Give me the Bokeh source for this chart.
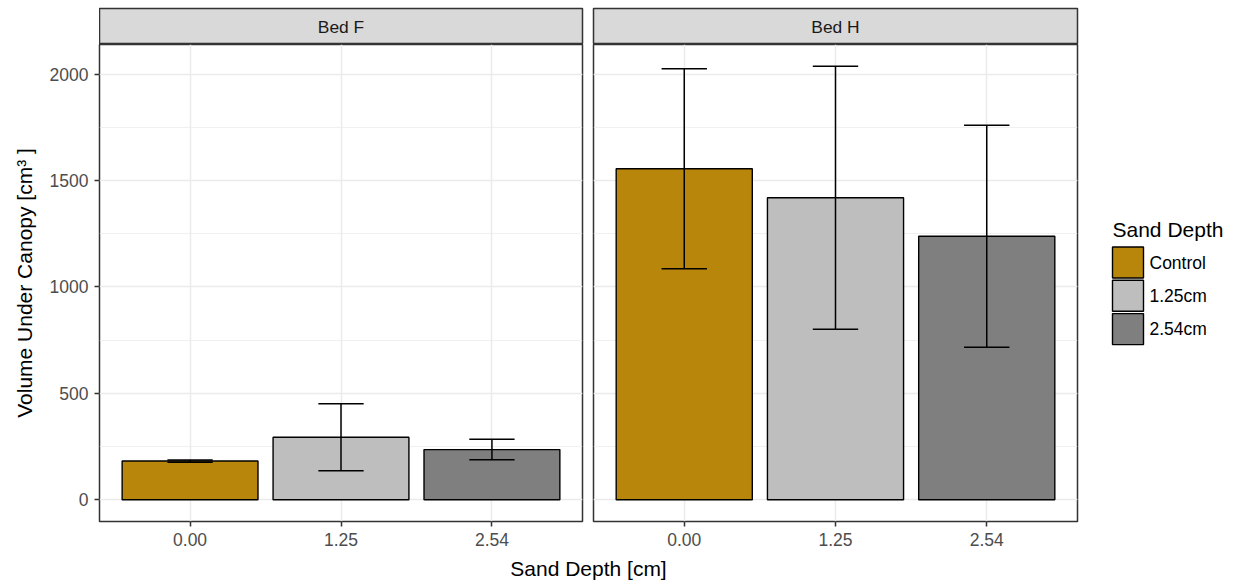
from bokeh.plotting import figure
from bokeh.layouts import column, row
from bokeh.models import (Range1d, FixedTicker, SingleIntervalTicker, Label,
                          Spacer, ColumnDataSource)
from bokeh.core.properties import value
from bokeh.embed import file_html
from bokeh.resources import INLINE

# ---- data -------------------------------------------------------------
beds = ["Bed F", "Bed H"]
depth_ticks = ["0.00", "1.25", "2.54"]
depth_names = ["Control", "1.25cm", "2.54cm"]
bar_colors = ["#B8860B", "#BEBEBE", "#7F7F7F"]

mean_bed_f = [182, 294, 236]
se_bed_f = [5, 157, 48]
mean_bed_h = [1555, 1419, 1238]
se_bed_h = [470, 618, 521]

# ---- styling ----------------------------------------------------------
FONT = "Liberation Sans"
BORDER = "#333333"
GRID = "#EBEBEB"

PANEL_H = 511        # panel row height (frame + x axis)
AXIS_H = 34          # room below the frame for the x axis

# shared y extent: 0 .. highest error bar, padded 5% each side
y_top = max(m + s for m, s in zip(mean_bed_f + mean_bed_h, se_bed_f + se_bed_h))
y_lo, y_hi = -0.05 * y_top, 1.05 * y_top

positions = [i + 1 for i in range(len(depth_ticks))]
BAR_W = 0.9
CAP_W = 0.3


def make_panel(means, ses, show_y, width, left, right):
    src = ColumnDataSource(dict(
        x=positions,
        top=means,
        lower=[m - s for m, s in zip(means, ses)],
        upper=[m + s for m, s in zip(means, ses)],
        cl=[x - CAP_W / 2 for x in positions],
        cr=[x + CAP_W / 2 for x in positions],
        color=bar_colors,
    ))
    p = figure(width=width, height=PANEL_H,
               x_range=Range1d(0.4, len(positions) + 0.6),
               y_range=Range1d(y_lo, y_hi),
               output_backend="svg", toolbar_location=None,
               y_axis_location="left" if show_y else None,
               min_border_left=left, min_border_right=right,
               min_border_top=0, min_border_bottom=AXIS_H)
    p.outline_line_color = BORDER
    p.outline_line_width = 1.5
    p.background_fill_color = "white"
    p.border_fill_color = "white"

    xt = FixedTicker(ticks=positions)
    yt = SingleIntervalTicker(interval=500, num_minor_ticks=2)

    p.xaxis.ticker = xt
    p.xgrid.ticker = xt
    p.ygrid.ticker = yt
    p.xaxis.major_label_overrides = {x: lab for x, lab in zip(positions, depth_ticks)}
    axes = list(p.xaxis)
    if show_y:
        p.yaxis.ticker = yt
        p.yaxis.axis_label = "Volume Under Canopy [cm³ ]"
        p.yaxis.axis_label_text_font = FONT
        p.yaxis.axis_label_text_font_size = "21px"
        p.yaxis.axis_label_text_font_style = "normal"
        p.yaxis.axis_label_text_color = "black"
        p.yaxis.axis_label_standoff = 11
        axes += list(p.yaxis)

    for ax in axes:
        ax.axis_line_color = None
        ax.major_tick_line_color = BORDER
        ax.major_tick_line_width = 1.5
        ax.major_tick_out = 5
        ax.major_tick_in = 0
        ax.minor_tick_line_color = None
        ax.major_label_text_font = FONT
        ax.major_label_text_font_size = "17.5px"
        ax.major_label_text_color = "#4D4D4D"
        ax.major_label_standoff = 6

    for g in p.grid:
        g.grid_line_color = GRID
        g.grid_line_width = 1.5
        g.minor_grid_line_color = GRID
        g.minor_grid_line_width = 0.75

    p.vbar(x="x", top="top", bottom=0, width=BAR_W, source=src,
           fill_color="color", line_color="black", line_width=1.4)
    p.segment(x0="x", y0="lower", x1="x", y1="upper", source=src,
              line_color="black", line_width=1.5)
    p.segment(x0="cl", y0="upper", x1="cr", y1="upper", source=src,
              line_color="black", line_width=1.5)
    p.segment(x0="cl", y0="lower", x1="cr", y1="lower", source=src,
              line_color="black", line_width=1.5)
    return p


def make_strip(text, width, left, right):
    s = figure(width=width, height=44, x_range=Range1d(0, 1), y_range=Range1d(0, 1),
               x_axis_type=None, y_axis_type=None, output_backend="svg",
               toolbar_location=None, min_border_left=left, min_border_right=right,
               min_border_top=8, min_border_bottom=0)
    s.background_fill_color = "#D9D9D9"
    s.border_fill_color = "white"
    s.outline_line_color = BORDER
    s.outline_line_width = 1.5
    s.add_layout(Label(x=0.5, y=0.5, text=text, text_align="center",
                       text_baseline="middle", text_font=FONT,
                       text_font_size="17.4px", text_color="#1A1A1A"))
    return s


# ---- panels -------------------------------------------------------------
fig_f = make_panel(mean_bed_f, se_bed_f, True, 584, 99, 2)
fig_h = make_panel(mean_bed_h, se_bed_h, False, 495, 9, 2)

strip_f = make_strip(beds[0], 485, 0, 2)
strip_h = make_strip(beds[1], 495, 9, 2)

# ---- legend: pixel-unit canvas over the panel frame height, y downwards --
LEG_W = 156
LEG_FRAME_H = PANEL_H - AXIS_H
KEY = 31            # key box side
PITCH = 33.3        # distance between key centres
KEY_X = 33 + KEY / 2
FIRST_KEY_Y = 218
leg_fig = figure(width=LEG_W, height=PANEL_H, x_range=Range1d(0, LEG_W),
                 y_range=Range1d(LEG_FRAME_H, 0), x_axis_type=None, y_axis_type=None,
                 output_backend="svg", toolbar_location=None,
                 min_border_left=0, min_border_right=0,
                 min_border_top=0, min_border_bottom=AXIS_H)
leg_fig.outline_line_color = None
leg_fig.border_fill_color = "white"
leg_fig.background_fill_color = "white"
key_y = [FIRST_KEY_Y + i * PITCH for i in range(len(depth_names))]
leg_src = ColumnDataSource(dict(x=[KEY_X] * len(depth_names), y=key_y,
                                tx=[KEY_X + KEY / 2 + 6] * len(depth_names),
                                name=depth_names, color=bar_colors))
leg_fig.rect(x="x", y="y", width=KEY, height=KEY, source=leg_src,
             fill_color="color", line_color="black", line_width=1.4)
leg_fig.text(x="tx", y="y", text="name", source=leg_src,
             text_font=value(FONT), text_font_size=value("17.5px"),
             text_color="black", text_baseline="middle", text_align="left")
leg_fig.add_layout(Label(x=KEY_X - KEY / 2, y=FIRST_KEY_Y - KEY / 2 - 18,
                         text="Sand Depth", text_align="left",
                         text_baseline="middle", text_font=FONT,
                         text_font_size="21px", text_color="black"))

# ---- shared x-axis title ----------------------------------------------
xlab = figure(width=978, height=26, x_range=Range1d(0, 1), y_range=Range1d(0, 1),
              x_axis_type=None, y_axis_type=None, output_backend="svg",
              toolbar_location=None, min_border_left=0, min_border_right=0,
              min_border_top=0, min_border_bottom=0)
xlab.outline_line_color = None
xlab.add_layout(Label(x=0.5, y=0.5, text="Sand Depth [cm]", text_align="center",
                      text_baseline="middle", text_font=FONT, text_font_size="21px",
                      text_color="black"))

layout = column(
    row(Spacer(width=99, height=44), strip_f, strip_h, Spacer(width=156, height=44)),
    row(fig_f, fig_h, leg_fig),
    row(Spacer(width=99, height=26), xlab, Spacer(width=158, height=26)),
)

open("out.html", "w").write(file_html(layout, INLINE))
